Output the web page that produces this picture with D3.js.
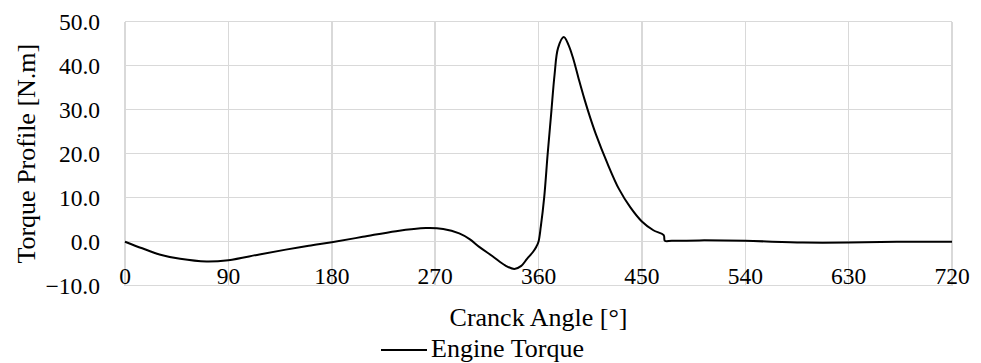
<!DOCTYPE html>
<html>
<head>
<meta charset="utf-8"/>
<title>Engine Torque</title>
<script src="https://cdn.jsdelivr.net/npm/d3@7"></script>
<style>
  body { margin: 0; background: #fff; }
  text { font-family: "Palatino Linotype", "Book Antiqua", Palatino, "Liberation Serif", serif; fill: #000; }
  .grid line { stroke: #d9d9d9; stroke-width: 1.5; shape-rendering: crispEdges; }
</style>
</head>
<body>
<div id="chart"></div>
<script>
// crank angle [deg] and torque [N.m]
var angles = [0, 15, 30, 48, 71, 90, 117, 140, 160, 180, 207, 236, 262, 277, 291, 300, 309, 320, 331, 339,
              345, 350, 355, 358, 360, 362, 365, 368, 371, 374, 377, 382, 386, 390, 395, 400, 405, 410,
              420, 430, 440, 450, 460, 469, 470, 476, 500, 540, 590, 630, 674, 720];
var torque = [0, -1.5, -2.9, -3.9, -4.5, -4.2, -2.9, -1.8, -0.9, -0.1, 1.1, 2.4, 3.1, 2.9, 1.9, 0.6, -1.3, -3.3, -5.4, -6.2,
              -5.5, -3.9, -2.4, -1.2, 0, 3.4, 10.2, 20, 29, 38, 44, 46.5, 44.8, 41.8, 37, 32.4, 28.2, 24.4,
              17.8, 12, 7.8, 4.6, 2.6, 1.5, 0.2, 0.2, 0.3, 0.2, -0.2, -0.2, 0, 0];
var xTicks = [0, 90, 180, 270, 360, 450, 540, 630, 720];
var yTicks = [-10, 0, 10, 20, 30, 40, 50];
var seriesName = "Engine Torque";

var w = 981, h = 363;
var pLeft = 125, pRight = 952, pTop = 21.7, pBottom = 285.7;

var svg = d3.select("#chart").append("svg")
    .attr("width", w).attr("height", h);

var x = d3.scaleLinear().domain([0, 720]).range([pLeft, pRight]);
var y = d3.scaleLinear().domain([-10, 50]).range([pBottom, pTop]);

// gridlines
var grid = svg.append("g").attr("class", "grid");
grid.selectAll(".h").data(yTicks).enter().append("line")
    .attr("x1", pLeft).attr("x2", pRight)
    .attr("y1", d => y(d)).attr("y2", d => y(d));
grid.selectAll(".v").data(xTicks).enter().append("line")
    .attr("x1", d => x(d)).attr("x2", d => x(d))
    .attr("y1", pTop).attr("y2", pBottom);

// y tick labels
svg.append("g").selectAll("text").data(yTicks).enter().append("text")
    .attr("x", 100).attr("y", d => y(d)).attr("dy", "0.35em")
    .attr("text-anchor", "end").style("font-size", "23.5px")
    .text(d => d3.format(".1f")(d));

// x tick labels
svg.append("g").selectAll("text").data(xTicks).enter().append("text")
    .attr("x", d => x(d)).attr("y", 284)
    .attr("text-anchor", "middle").style("font-size", "23.5px")
    .text(d => d);

// curve
var line = d3.line()
    .x(d => x(d[0])).y(d => y(d[1]))
    .curve(d3.curveCatmullRom.alpha(0.5));
svg.append("path")
    .datum(d3.zip(angles, torque))
    .attr("fill", "none").attr("stroke", "#000").attr("stroke-width", 2)
    .attr("stroke-linejoin", "round")
    .attr("d", line);

// axis titles
svg.append("text")
    .attr("x", (pLeft + pRight) / 2).attr("y", 326)
    .attr("text-anchor", "middle").style("font-size", "26px")
    .text("Cranck Angle [°]");
svg.append("text")
    .attr("transform", "translate(35," + ((pTop + pBottom) / 2) + ") rotate(-90)")
    .attr("text-anchor", "middle").style("font-size", "26px")
    .text("Torque Profile [N.m]");

// legend
svg.append("line")
    .attr("x1", 381).attr("x2", 427).attr("y1", 350).attr("y2", 350)
    .attr("stroke", "#000").attr("stroke-width", 2);
svg.append("text")
    .attr("x", 431).attr("y", 357).style("font-size", "26px")
    .text(seriesName);
</script>
</body>
</html>
